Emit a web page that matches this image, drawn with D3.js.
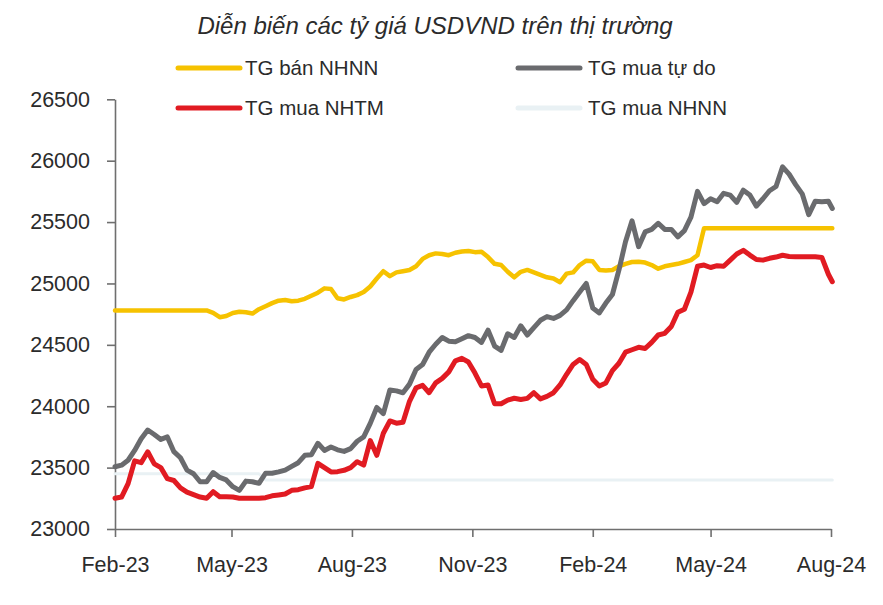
<!DOCTYPE html>
<html>
<head>
<meta charset="utf-8">
<script src="https://cdn.jsdelivr.net/npm/d3@7"></script>
<style>
  html, body { margin: 0; padding: 0; background: #ffffff; }
  svg { display: block; }
  text { font-family: "Liberation Sans", Arial, sans-serif; fill: #2b2b2b; }
</style>
</head>
<body>
<svg id="chart" width="883" height="605"></svg>
<script>
// ---------- DATA ----------
const title = "Diễn biến các tỷ giá USDVND trên thị trường";

const dates = [
"2023-02-01","2023-02-06","2023-02-11","2023-02-16","2023-02-21","2023-02-26","2023-03-03","2023-03-08","2023-03-13","2023-03-18",
"2023-03-23","2023-03-28","2023-04-02","2023-04-07","2023-04-12","2023-04-17","2023-04-22","2023-04-27","2023-05-02","2023-05-07",
"2023-05-12","2023-05-17","2023-05-22","2023-05-27","2023-06-01","2023-06-06","2023-06-11","2023-06-16","2023-06-21","2023-06-26",
"2023-07-01","2023-07-06","2023-07-11","2023-07-16","2023-07-21","2023-07-26","2023-07-31","2023-08-05","2023-08-10","2023-08-15",
"2023-08-20","2023-08-25","2023-08-30","2023-09-04","2023-09-09","2023-09-14","2023-09-19","2023-09-24","2023-09-29","2023-10-04",
"2023-10-09","2023-10-14","2023-10-19","2023-10-24","2023-10-29","2023-11-03","2023-11-08","2023-11-13","2023-11-18","2023-11-23",
"2023-11-28","2023-12-03","2023-12-08","2023-12-13","2023-12-18","2023-12-23","2023-12-28","2024-01-02","2024-01-07","2024-01-12",
"2024-01-17","2024-01-22","2024-01-27","2024-02-01","2024-02-06","2024-02-11","2024-02-16","2024-02-21","2024-02-26","2024-03-02",
"2024-03-07","2024-03-12","2024-03-17","2024-03-22","2024-03-27","2024-04-01","2024-04-06","2024-04-11","2024-04-16","2024-04-21",
"2024-04-26","2024-05-01","2024-05-06","2024-05-11","2024-05-16","2024-05-21","2024-05-26","2024-05-31","2024-06-05","2024-06-10",
"2024-06-15","2024-06-20","2024-06-25","2024-06-30","2024-07-05","2024-07-10","2024-07-15","2024-07-20","2024-07-25","2024-07-30",
"2024-08-02"
];

// TG bán NHNN (SBV selling rate)
const tgBanNHNN = [
24780,24780,24780,24780,24780,24780,24780,24780,24780,24780,
24780,24780,24780,24780,24780,24760,24725,24735,24760,24770,
24765,24755,24790,24815,24840,24860,24865,24855,24860,24875,
24900,24925,24960,24955,24880,24870,24890,24905,24930,24975,
25040,25100,25060,25090,25100,25110,25140,25200,25230,25245,
25240,25230,25250,25260,25265,25255,25258,25215,25160,25150,
25095,25050,25095,25110,25090,25070,25050,25040,25010,25080,
25090,25150,25185,25180,25110,25105,25110,25140,25160,25175,
25177,25170,25150,25120,25140,25150,25160,25175,25190,25230,
25450,25450,25450,25450,25450,25450,25450,25450,25450,25450,
25450,25450,25450,25450,25450,25450,25450,25450,25450,25450,
25450
];

// TG mua tự do (free-market buying rate)
const tgMuaTuDo = [
23507,23520,23560,23640,23735,23806,23770,23730,23750,23630,
23580,23480,23450,23385,23385,23460,23420,23400,23345,23315,
23390,23385,23372,23454,23454,23465,23480,23510,23540,23600,
23605,23698,23640,23668,23645,23632,23655,23715,23750,23860,
23990,23940,24132,24125,24110,24180,24300,24340,24440,24505,
24560,24530,24525,24550,24575,24560,24520,24620,24490,24455,
24590,24560,24655,24580,24640,24700,24730,24715,24740,24785,
24860,24930,25000,24800,24760,24840,24910,25110,25340,25510,
25300,25420,25440,25490,25440,25440,25380,25430,25540,25750,
25650,25690,25665,25734,25720,25660,25760,25720,25630,25690,
25755,25790,25950,25890,25805,25730,25560,25670,25665,25670,
25611
];

// TG mua NHTM (commercial bank buying rate)
const tgMuaNHTM = [
23250,23260,23370,23555,23540,23629,23530,23500,23410,23395,
23335,23300,23280,23260,23250,23304,23263,23263,23260,23250,
23250,23250,23250,23255,23270,23277,23285,23315,23320,23335,
23345,23535,23500,23465,23467,23478,23500,23548,23521,23720,
23600,23780,23880,23862,23870,24040,24150,24170,24110,24190,
24227,24280,24370,24390,24360,24270,24165,24173,24020,24020,
24050,24065,24055,24064,24110,24060,24080,24110,24173,24260,
24340,24380,24340,24220,24165,24190,24290,24350,24440,24460,
24480,24470,24520,24580,24594,24650,24765,24790,24930,25140,
25150,25130,25145,25140,25190,25240,25270,25231,25195,25190,
25205,25215,25230,25220,25217,25217,25217,25217,25212,25075,
25014
];

// TG mua NHNN (SBV buying rate)
const tgMuaNHNN = [
23450,23450,23450,23450,23450,23450,23450,23450,23450,23450,
23450,23450,23450,23450,23450,23450,23450,23450,23450,23450,
23450,23450,23450,23400,23400,23400,23400,23400,23400,23400,
23400,23400,23400,23400,23400,23400,23400,23400,23400,23400,
23400,23400,23400,23400,23400,23400,23400,23400,23400,23400,
23400,23400,23400,23400,23400,23400,23400,23400,23400,23400,
23400,23400,23400,23400,23400,23400,23400,23400,23400,23400,
23400,23400,23400,23400,23400,23400,23400,23400,23400,23400,
23400,23400,23400,23400,23400,23400,23400,23400,23400,23400,
23400,23400,23400,23400,23400,23400,23400,23400,23400,23400,
23400,23400,23400,23400,23400,23400,23400,23400,23400,23400,
23400
];

const yTicks = [23000, 23500, 24000, 24500, 25000, 25500, 26000, 26500];
const xTickDates = ["2023-02-01","2023-05-01","2023-08-01","2023-11-01","2024-02-01","2024-05-01","2024-08-01"];
const xTickLabels = ["Feb-23","May-23","Aug-23","Nov-23","Feb-24","May-24","Aug-24"];

const seriesNames = ["TG bán NHNN", "TG mua tự do", "TG mua NHTM", "TG mua NHNN"];
const seriesColors = ["#f6c200", "#6a6b6e", "#e11b22", "#e9f1f4"];

// ---------- CHART ----------
const parse = d3.timeParse("%Y-%m-%d");
const svg = d3.select("#chart");

const x = d3.scaleTime()
  .domain([parse("2023-02-01"), parse("2024-08-01")])
  .range([115, 831]);
const y = d3.scaleLinear()
  .domain([23000, 26500])
  .range([529, 99.3]);

// title
svg.append("text")
  .attr("x", 435).attr("y", 34)
  .attr("text-anchor", "middle")
  .style("font-size", "24px")
  .style("font-style", "italic")
  .text(title);

// axes
const yAxis = d3.axisLeft(y).tickValues(yTicks).tickSize(8).tickSizeOuter(0).tickPadding(17)
  .tickFormat(d3.format("d"));
const gy = svg.append("g").attr("transform", "translate(115,0)").call(yAxis);

const xAxis = d3.axisBottom(x).tickValues(xTickDates.map(parse)).tickSize(8).tickSizeOuter(0).tickPadding(20)
  .tickFormat((d, i) => xTickLabels[i]);
const gx = svg.append("g").attr("transform", "translate(0,529)").call(xAxis);

[gx, gy].forEach(g => {
  g.select(".domain").attr("stroke", "#6f6f6f").attr("stroke-width", 1.6);
  g.selectAll(".tick line").attr("stroke", "#6f6f6f").attr("stroke-width", 1.6);
  g.selectAll(".tick text").style("font-size", "21.5px")
    .style("font-family", "'Liberation Sans', Arial, sans-serif").attr("fill", "#2b2b2b");
});

// lines (drawn back to front: light SBV buying line first)
const allSeries = [tgBanNHNN, tgMuaTuDo, tgMuaNHTM, tgMuaNHNN];
const widths = [4.5, 5, 5, 3];
const drawOrder = [3, 0, 1, 2];
const line = d3.line()
  .x(d => x(d[0]))
  .y(d => y(d[1]))
  .curve(d3.curveLinear);

const plotG = svg.append("g");
drawOrder.forEach(k => {
  const vals = allSeries[k];
  const pts = dates.map((ds, i) => [parse(ds), vals[i]]);
  plotG.append("path")
    .datum(pts)
    .attr("fill", "none")
    .attr("stroke", seriesColors[k])
    .attr("stroke-width", widths[k])
    .attr("stroke-linejoin", "round")
    .attr("stroke-linecap", "round")
    .attr("d", line);
});

// legend
const legendPos = [
  {lx: 178, tx: 245, y: 68},
  {lx: 518, tx: 588, y: 68},
  {lx: 178, tx: 245, y: 108},
  {lx: 518, tx: 588, y: 108}
];
const lg = svg.append("g");
seriesNames.forEach((name, k) => {
  const p = legendPos[k];
  lg.append("line")
    .attr("x1", p.lx).attr("x2", p.lx + 62)
    .attr("y1", p.y).attr("y2", p.y)
    .attr("stroke", seriesColors[k])
    .attr("stroke-width", 5)
    .attr("stroke-linecap", "round");
  lg.append("text")
    .attr("x", p.tx).attr("y", p.y)
    .attr("dy", "0.35em")
    .style("font-size", "20.5px")
    .text(name);
});
</script>
</body>
</html>
